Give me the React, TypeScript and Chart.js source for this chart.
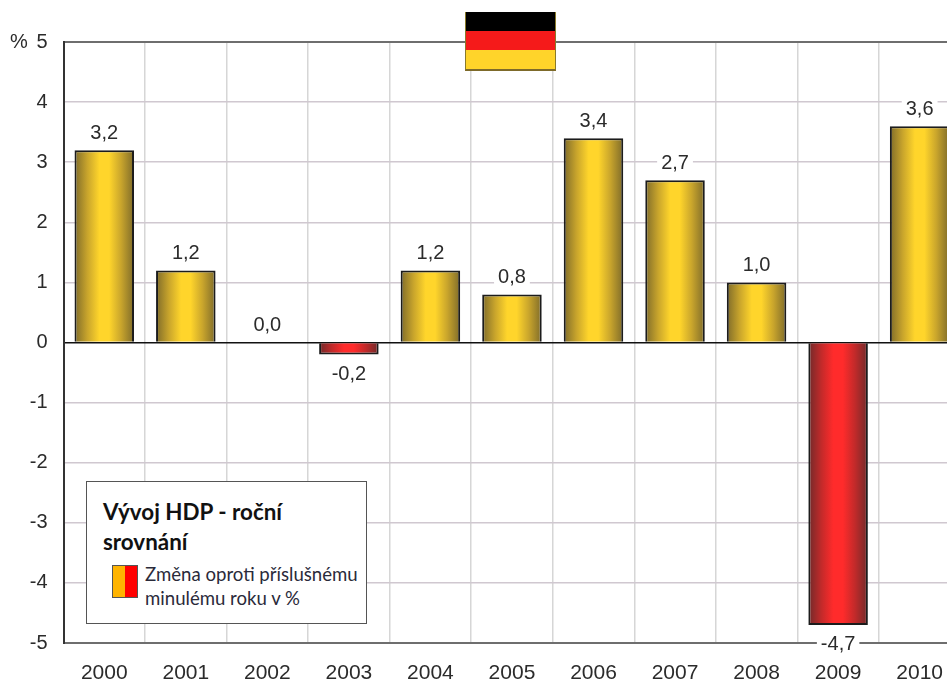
import { useEffect, useRef } from "react";
import { Chart, registerables } from "chart.js";

Chart.register(...registerables);

const years = ["2000", "2001", "2002", "2003", "2004", "2005", "2006", "2007", "2008", "2009", "2010"];
const growth = [3.2, 1.2, 0.0, -0.2, 1.2, 0.8, 3.4, 2.7, 1.0, -4.7, 3.6];
const yTicks = [5, 4, 3, 2, 1, 0, -1, -2, -3, -4, -5];

const FONT = "'Liberation Sans', Arial, sans-serif";
const TEXT = "#2b2b2b";

const fmt = (v: number) => v.toFixed(1).replace(".", ",");

// Cylinder shading across the width of each column.
function columnFill(ctx: any) {
  const chart = ctx.chart;
  const v = growth[ctx.dataIndex];
  const x = chart.scales.x?.getPixelForValue(ctx.dataIndex);
  if (!Number.isFinite(x)) return v >= 0 ? "#ffd52b" : "#ff2b2b";
  const half = 30;
  const g = chart.ctx.createLinearGradient(x - half, 0, x + half, 0);
  if (v >= 0) {
    g.addColorStop(0, "#7d6a2a");
    g.addColorStop(0.22, "#c9a52c");
    g.addColorStop(0.42, "#ffd52b");
    g.addColorStop(0.58, "#ffd52b");
    g.addColorStop(0.78, "#c9a52c");
    g.addColorStop(1, "#7d6a2a");
  } else {
    g.addColorStop(0, "#6e2a2a");
    g.addColorStop(0.22, "#c22a2a");
    g.addColorStop(0.42, "#ff2b2b");
    g.addColorStop(0.58, "#ff2b2b");
    g.addColorStop(0.78, "#c22a2a");
    g.addColorStop(1, "#6e2a2a");
  }
  return g;
}

// Value captions above positive and below negative columns.
const valueLabels = {
  id: "valueLabels",
  afterDatasetsDraw(chart: any) {
    const { ctx, scales } = chart;
    ctx.save();
    ctx.font = `20px ${FONT}`;
    ctx.textAlign = "center";
    ctx.textBaseline = "middle";
    growth.forEach((v, i) => {
      const x = scales.x.getPixelForValue(i);
      const y = scales.y.getPixelForValue(v) + (v < 0 ? 20 : -17);
      const text = fmt(v);
      const w = ctx.measureText(text).width + 8;
      ctx.fillStyle = "#ffffff";
      ctx.fillRect(x - w / 2, y - 10, w, 20);
      ctx.fillStyle = TEXT;
      ctx.fillText(text, x, y);
    });
    ctx.restore();
  },
};

// "%" unit written beside the top tick.
const unitLabel = {
  id: "unitLabel",
  afterDraw(chart: any) {
    const { ctx, scales } = chart;
    ctx.save();
    ctx.font = `20px ${FONT}`;
    ctx.fillStyle = TEXT;
    ctx.textAlign = "center";
    ctx.textBaseline = "middle";
    ctx.fillText("%", 19, scales.y.getPixelForValue(5));
    ctx.restore();
  },
};

export default function App() {
  const ref = useRef<HTMLCanvasElement>(null);

  useEffect(() => {
    document.body.style.margin = "0";
    const chart = new Chart(ref.current!, {
      type: "bar",
      data: {
        labels: years,
        datasets: [
          {
            data: growth,
            backgroundColor: columnFill,
            borderColor: "#1c1c1c",
            borderWidth: 2,
            barPercentage: 0.73,
            categoryPercentage: 1,
          },
        ],
      },
      options: {
        responsive: false,
        animation: false,
        layout: { padding: { top: 42, left: 0, right: 0, bottom: 0 } },
        plugins: { legend: { display: false }, tooltip: { enabled: false } },
        scales: {
          x: {
            afterFit: (s: any) => {
              s.height = 40;
            },
            grid: { color: "#d6d6d6", lineWidth: 1.5, drawTicks: false },
            border: { color: "#6e6e6e", width: 2 },
            ticks: {
              color: TEXT,
              font: { family: FONT, size: 21 },
              padding: 18,
              maxRotation: 0,
              autoSkip: false,
            },
          },
          y: {
            min: -5,
            max: 5,
            afterFit: (s: any) => {
              s.width = 63.5;
            },
            afterBuildTicks: (s: any) => {
              s.ticks = yTicks.map((value) => ({ value }));
            },
            grid: {
              color: (c: any) =>
                c.tick?.value === 0 ? "#111111" : c.tick?.value === 5 || c.tick?.value === -5 ? "#6e6e6e" : "#d0c8d0",
              lineWidth: (c: any) => (c.tick?.value === 5 || c.tick?.value === -5 ? 2 : 1.5),
              drawTicks: false,
            },
            border: { color: "#333333", width: 2 },
            ticks: {
              color: TEXT,
              font: { family: FONT, size: 20 },
              padding: 16,
              callback: (v: any) => String(v),
            },
          },
        },
      },
      plugins: [valueLabels, unitLabel],
    } as any);
    return () => chart.destroy();
  }, []);

  return (
    <div style={{ position: "relative", width: 947, height: 683, overflow: "hidden", background: "#fff" }}>
      <canvas ref={ref} width={961} height={683} style={{ display: "block", width: 961, height: 683 }} />

      {/* Flag above the plot */}
      <div
        style={{
          position: "absolute",
          left: 465,
          top: 12,
          width: 91,
          height: 59,
          boxSizing: "border-box",
          borderLeft: "1px solid #8a7a2a",
          borderRight: "1px solid #8a7a2a",
          borderBottom: "2px solid #7d6a2a",
          background:
            "linear-gradient(to bottom, #000 0, #000 19px, #f51a1a 19px, #f51a1a 38px, #ffd42a 38px, #ffd42a 100%)",
        }}
      />

      {/* Legend box */}
      <div
        style={{
          position: "absolute",
          left: 86,
          top: 481,
          width: 281,
          height: 143,
          boxSizing: "border-box",
          border: "1.5px solid #555",
          background: "#fff",
          fontFamily: "Lato, 'Open Sans', sans-serif",
        }}
      >
        <div
          style={{
            position: "absolute",
            left: 16,
            top: 15,
            width: 240,
            fontSize: 22.4,
            fontWeight: 700,
            lineHeight: "30px",
            color: "#111",
          }}
        >
          Vývoj HDP - roční srovnání
        </div>
        <div
          style={{
            position: "absolute",
            left: 25,
            top: 83,
            width: 26,
            height: 33,
            boxSizing: "border-box",
            border: "1px solid #555",
            background: "linear-gradient(to right, #ffb400 0, #ffb400 50%, #ff0000 50%, #ff0000 100%)",
          }}
        />
        <div
          style={{
            position: "absolute",
            left: 58,
            top: 80,
            width: 222,
            fontSize: 18.6,
            lineHeight: "24px",
            color: "#2a2a3a",
            whiteSpace: "nowrap",
          }}
        >
          Změna oproti příslušnému
          <br />
          minulému roku v %
        </div>
      </div>
    </div>
  );
}
